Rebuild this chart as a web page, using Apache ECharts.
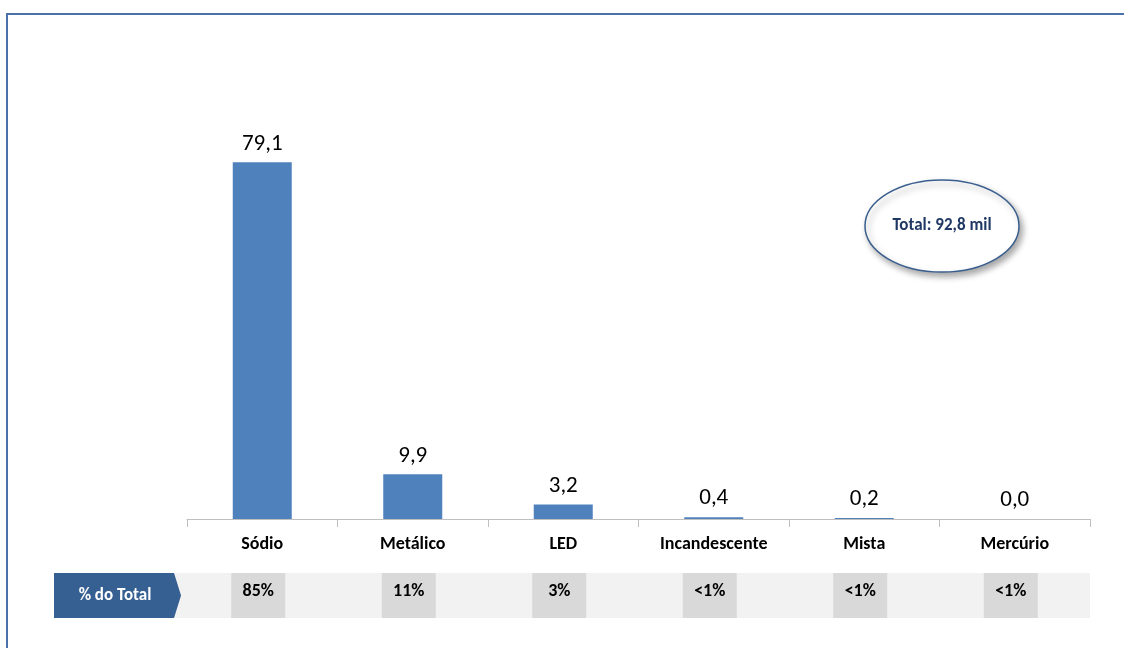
<!DOCTYPE html>
<html>
<head>
<meta charset="utf-8">
<script src="https://cdn.jsdelivr.net/npm/echarts@6/dist/echarts.min.js"></script>
<style>
    html, body { margin: 0; padding: 0; background: #fff; }
    #chart { width: 1124px; height: 648px; }
</style>
</head>
<body>
<div id="chart"></div>
<script type="text/javascript">
    // dados (milhares de pontos)
    var categorias = ['Sódio', 'Metálico', 'LED', 'Incandescente', 'Mista', 'Mercúrio'];
    var valores = [79.1, 9.9, 3.2, 0.4, 0.2, 0.0];
    var percentuais = ['85%', '11%', '3%', '<1%', '<1%', '<1%'];
    var totalTexto = 'Total: 92,8 mil';

    var fonte = 'Carlito, Lato, sans-serif';
    var myChart = echarts.init(document.getElementById('chart'));

    var option = {
        backgroundColor: '#ffffff',
        animation: false,
        grid: [
            {left: 187, right: 34, top: 68, height: 451},
            {left: 183, right: 38, top: 573, height: 45}
        ],
        xAxis: [
            {
                type: 'category',
                gridIndex: 0,
                data: categorias,
                axisLine: {lineStyle: {color: '#bfbfbf', width: 1}},
                axisTick: {show: true, length: 8, lineStyle: {color: '#bfbfbf'}},
                axisLabel: {
                    color: '#000', fontSize: 18, fontWeight: 'bold',
                    fontFamily: fonte, margin: 16
                }
            },
            {
                type: 'category',
                gridIndex: 1,
                data: categorias,
                show: false
            }
        ],
        yAxis: [
            {type: 'value', gridIndex: 0, min: 0, max: 100, show: false},
            {type: 'value', gridIndex: 1, min: 0, max: 1, show: false}
        ],
        series: [
            {
                type: 'bar',
                xAxisIndex: 0,
                yAxisIndex: 0,
                data: valores,
                barWidth: 59,
                itemStyle: {color: '#4f81bd'},
                label: {
                    show: true,
                    position: 'top',
                    distance: 7,
                    color: '#000',
                    fontSize: 23,
                    fontFamily: fonte,
                    formatter: function (p) {
                        return p.value.toFixed(1).replace('.', ',');
                    }
                }
            },
            {
                type: 'bar',
                xAxisIndex: 1,
                yAxisIndex: 1,
                data: percentuais.map(function () { return 1; }),
                barWidth: 54,
                z: 3,
                itemStyle: {color: '#d9d9d9'},
                label: {
                    show: true,
                    position: 'inside',
                    offset: [0, -4],
                    color: '#000',
                    fontSize: 18,
                    fontWeight: 'bold',
                    fontFamily: fonte,
                    formatter: function (p) {
                        return percentuais[p.dataIndex];
                    }
                }
            }
        ],
        graphic: [
            {
                type: 'rect',
                z: 0,
                shape: {x: 7, y: 14, width: 1200, height: 700},
                style: {fill: 'none', stroke: '#4a72a8', lineWidth: 2}
            },
            {
                type: 'rect',
                z: 0,
                shape: {x: 174, y: 573, width: 916, height: 45},
                style: {fill: '#f2f2f2'}
            },
            {
                type: 'polygon',
                z: 4,
                shape: {points: [[54, 573], [174, 573], [181, 595.5], [174, 618], [54, 618]]},
                style: {fill: '#376092'}
            },
            {
                type: 'text',
                z: 5,
                x: 115,
                y: 596,
                style: {
                    text: '% do Total',
                    fill: '#ffffff',
                    font: 'bold 17px ' + fonte,
                    textAlign: 'center',
                    textVerticalAlign: 'middle'
                }
            },
            {
                type: 'ellipse',
                z: 4,
                shape: {cx: 942, cy: 226, rx: 77, ry: 46},
                style: {
                    fill: '#ffffff',
                    stroke: '#3a5f8f',
                    lineWidth: 1.5,
                    shadowBlur: 6,
                    shadowOffsetX: 3,
                    shadowOffsetY: 4,
                    shadowColor: 'rgba(0,0,0,0.35)'
                }
            },
            {
                type: 'text',
                z: 5,
                x: 942,
                y: 226,
                style: {
                    text: totalTexto,
                    fill: '#1f3864',
                    font: 'bold 17px ' + fonte,
                    textAlign: 'center',
                    textVerticalAlign: 'middle'
                }
            }
        ]
    };

    myChart.setOption(option);
</script>
</body>
</html>
